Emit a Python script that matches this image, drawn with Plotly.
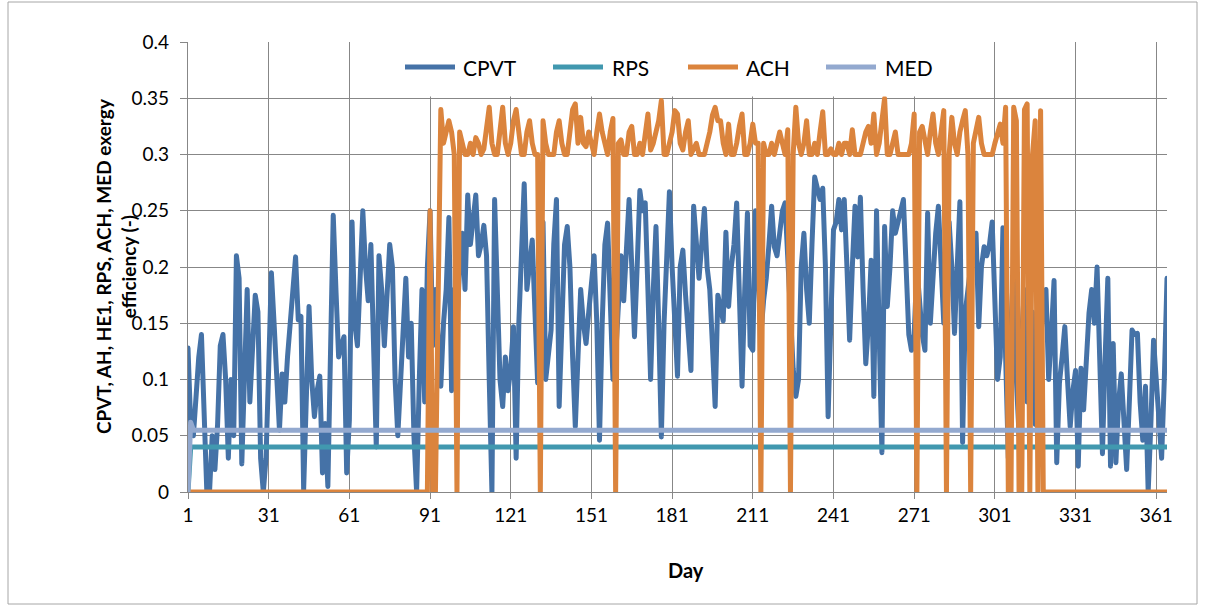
import plotly.graph_objects as go

# Daily exergy efficiency of each component over one year
days = list(range(1, 366))

cpvt = [
    # days 1-31
    0.128, 0.06, 0.05, 0.09, 0.12, 0.14, 0.07, 0.0, 0.0, 0.05, 0.02, 0.06, 0.13, 0.14, 0.10, 0.03,
    0.10, 0.05, 0.21, 0.19, 0.025, 0.10, 0.18, 0.08, 0.12, 0.175, 0.16, 0.03, 0.0, 0.03, 0.11,
    # days 32-62
    0.195, 0.15, 0.09, 0.055, 0.105, 0.08, 0.12, 0.15, 0.175, 0.209, 0.153, 0.156, 0.002, 0.09, 0.165,
    0.10, 0.067, 0.09, 0.103, 0.017, 0.061, 0.005, 0.15, 0.246, 0.18, 0.12, 0.13, 0.138, 0.017, 0.064, 0.24,
    # days 63-91
    0.15, 0.13, 0.20, 0.25, 0.20, 0.17, 0.22, 0.12, 0.04, 0.21, 0.18, 0.13, 0.17, 0.22, 0.20,
    0.10, 0.05, 0.10, 0.15, 0.19, 0.12, 0.15, 0.05, 0.0, 0.10, 0.18, 0.08, 0.20, 0.25,
    # days 92-121
    0.13, 0.18, 0.14, 0.094, 0.15, 0.18, 0.244, 0.09, 0.18, 0.15, 0.20, 0.23, 0.18, 0.264, 0.22,
    0.24, 0.264, 0.21, 0.22, 0.237, 0.21, 0.10, 0.0, 0.26, 0.18, 0.10, 0.076, 0.12, 0.09, 0.11,
    # days 122-152
    0.147, 0.03, 0.15, 0.22, 0.274, 0.18, 0.20, 0.224, 0.16, 0.097, 0.17, 0.24, 0.10, 0.12, 0.144,
    0.22, 0.26, 0.076, 0.15, 0.22, 0.236, 0.20, 0.12, 0.058, 0.12, 0.18, 0.15, 0.132, 0.16, 0.19, 0.21,
    # days 153-183
    0.15, 0.046, 0.15, 0.22, 0.239, 0.15, 0.10, 0.12, 0.16, 0.21, 0.17, 0.22, 0.26, 0.20, 0.138,
    0.20, 0.268, 0.25, 0.257, 0.18, 0.10, 0.18, 0.236, 0.15, 0.049, 0.15, 0.22, 0.267, 0.20, 0.14, 0.103,
    # days 184-212
    0.20, 0.215, 0.175, 0.14, 0.108, 0.254, 0.22, 0.19, 0.22, 0.252, 0.20, 0.18, 0.13, 0.076, 0.175,
    0.16, 0.152, 0.231, 0.165, 0.20, 0.22, 0.257, 0.17, 0.094, 0.18, 0.248, 0.13, 0.126, 0.25,
    # days 213-243
    0.20, 0.14, 0.17, 0.19, 0.22, 0.254, 0.218, 0.21, 0.23, 0.25, 0.257, 0.20, 0.15, 0.11, 0.085,
    0.10, 0.20, 0.23, 0.18, 0.15, 0.22, 0.28, 0.27, 0.26, 0.27, 0.20, 0.067, 0.15, 0.233, 0.24, 0.26,
    # days 244-269
    0.233, 0.26, 0.20, 0.135, 0.20, 0.254, 0.209, 0.262, 0.18, 0.114, 0.15, 0.206, 0.085,
    0.25, 0.14, 0.035, 0.236, 0.165, 0.20, 0.25, 0.23, 0.24, 0.25, 0.26, 0.20, 0.14,
    # days 270-299
    0.126, 0.14, 0.20, 0.162, 0.14, 0.126, 0.248, 0.15, 0.20, 0.23, 0.254, 0.20, 0.15, 0.20, 0.24,
    0.20, 0.141, 0.20, 0.258, 0.044, 0.16, 0.18, 0.20, 0.22, 0.23, 0.147, 0.20, 0.218, 0.21, 0.22,
    # days 300-332
    0.24, 0.15, 0.10, 0.12, 0.235, 0.12, 0.03, 0.15, 0.20, 0.10, 0.05, 0.14, 0.18, 0.08, 0.12, 0.16,
    0.06, 0.10, 0.14, 0.17, 0.18, 0.10, 0.14, 0.188, 0.026, 0.097, 0.12, 0.147, 0.10, 0.058, 0.09, 0.108, 0.023,
    # days 333-365
    0.11, 0.073, 0.12, 0.159, 0.18, 0.15, 0.20, 0.10, 0.034, 0.12, 0.19, 0.023, 0.132, 0.026, 0.08, 0.105,
    0.06, 0.02, 0.08, 0.144, 0.14, 0.141, 0.08, 0.046, 0.094, 0.0, 0.06, 0.135, 0.10, 0.06, 0.03, 0.10, 0.19,
]

ach = [
    # days 1-90: chiller idle
    0.0, 0.0, 0.0, 0.0, 0.0, 0.0, 0.0, 0.0, 0.0, 0.0, 0.0, 0.0, 0.0, 0.0, 0.0,
    0.0, 0.0, 0.0, 0.0, 0.0, 0.0, 0.0, 0.0, 0.0, 0.0, 0.0, 0.0, 0.0, 0.0, 0.0,
    0.0, 0.0, 0.0, 0.0, 0.0, 0.0, 0.0, 0.0, 0.0, 0.0, 0.0, 0.0, 0.0, 0.0, 0.0,
    0.0, 0.0, 0.0, 0.0, 0.0, 0.0, 0.0, 0.0, 0.0, 0.0, 0.0, 0.0, 0.0, 0.0, 0.0,
    0.0, 0.0, 0.0, 0.0, 0.0, 0.0, 0.0, 0.0, 0.0, 0.0, 0.0, 0.0, 0.0, 0.0, 0.0,
    0.0, 0.0, 0.0, 0.0, 0.0, 0.0, 0.0, 0.0, 0.0, 0.0, 0.0, 0.0, 0.0, 0.0, 0.0,
    # days 91-120
    0.25, 0.0, 0.0, 0.20, 0.34, 0.31, 0.32, 0.33, 0.32, 0.30, 0.0, 0.32, 0.31, 0.30, 0.30,
    0.31, 0.30, 0.315, 0.31, 0.30, 0.305, 0.32, 0.342, 0.31, 0.30, 0.30, 0.32, 0.342, 0.31, 0.30,
    # days 121-150
    0.31, 0.33, 0.34, 0.32, 0.30, 0.30, 0.32, 0.33, 0.31, 0.30, 0.30, 0.0, 0.33, 0.31, 0.30,
    0.30, 0.30, 0.32, 0.33, 0.31, 0.30, 0.30, 0.32, 0.34, 0.345, 0.31, 0.333, 0.31, 0.307, 0.32,
    # days 151-182
    0.31, 0.30, 0.32, 0.336, 0.32, 0.31, 0.30, 0.32, 0.332, 0.0, 0.31, 0.313, 0.30, 0.30, 0.32, 0.325,
    0.30, 0.30, 0.31, 0.30, 0.32, 0.336, 0.304, 0.31, 0.32, 0.33, 0.348, 0.30, 0.30, 0.31, 0.32, 0.339,
    # days 183-213
    0.336, 0.31, 0.304, 0.32, 0.33, 0.30, 0.305, 0.31, 0.30, 0.30, 0.30, 0.31, 0.32, 0.335, 0.342, 0.33,
    0.33, 0.31, 0.30, 0.327, 0.30, 0.30, 0.31, 0.325, 0.336, 0.30, 0.30, 0.31, 0.327, 0.31, 0.31,
    # days 214-244
    0.0, 0.31, 0.30, 0.30, 0.31, 0.30, 0.31, 0.32, 0.31, 0.30, 0.322, 0.0, 0.30, 0.342, 0.31, 0.30,
    0.31, 0.33, 0.30, 0.30, 0.31, 0.30, 0.32, 0.338, 0.30, 0.30, 0.305, 0.30, 0.30, 0.31, 0.30,
    # days 245-272
    0.31, 0.31, 0.30, 0.322, 0.30, 0.30, 0.30, 0.31, 0.32, 0.325, 0.31, 0.336, 0.30, 0.31,
    0.33, 0.35, 0.30, 0.30, 0.31, 0.32, 0.30, 0.30, 0.30, 0.30, 0.30, 0.31, 0.336, 0.0,
    # days 273-305
    0.32, 0.325, 0.31, 0.30, 0.32, 0.336, 0.31, 0.30, 0.32, 0.339, 0.0, 0.30, 0.333, 0.31, 0.30, 0.32,
    0.33, 0.339, 0.30, 0.0, 0.31, 0.32, 0.333, 0.31, 0.30, 0.30, 0.30, 0.30, 0.31, 0.32, 0.327, 0.31, 0.342,
    # days 306-319
    0.0, 0.0, 0.342, 0.33, 0.0, 0.0, 0.34, 0.345, 0.0, 0.30, 0.33, 0.0, 0.339, 0.0,
    # days 320-365: chiller idle
    0.0, 0.0, 0.0, 0.0, 0.0, 0.0, 0.0, 0.0, 0.0, 0.0, 0.0, 0.0, 0.0, 0.0, 0.0, 0.0,
    0.0, 0.0, 0.0, 0.0, 0.0, 0.0, 0.0, 0.0, 0.0, 0.0, 0.0, 0.0, 0.0, 0.0, 0.0,
    0.0, 0.0, 0.0, 0.0, 0.0, 0.0, 0.0, 0.0, 0.0, 0.0, 0.0, 0.0, 0.0, 0.0, 0.0,
]

# RPS and MED run at a steady efficiency after start-up on day 1
rps = [0.0] + [0.04] * 364
med = [0.0, 0.062] + [0.055] * 363

series_names = ["CPVT", "RPS", "ACH", "MED"]
series_colors = ["#4572A7", "#4198AF", "#DB843D", "#93A9CF"]
series_values = [cpvt, rps, ach, med]

x_ticks = list(range(1, 366, 30))
y_ticks = [0, 0.05, 0.1, 0.15, 0.2, 0.25, 0.3, 0.35, 0.4]
y_tick_labels = ["0", "0.05", "0.1", "0.15", "0.2", "0.25", "0.3", "0.35", "0.4"]

FONT = "Lato, Carlito, 'Liberation Sans', sans-serif"
W, H = 1205, 609
L, R, T, B = 188, 38, 42, 117
PW, PH = W - L - R, H - T - B


def px(x):
    return (x - L) / PW


def py(y):
    return (H - B - y) / PH


fig = go.Figure()
for name, color, vals in zip(series_names, series_colors, series_values):
    fig.add_trace(go.Scatter(
        x=days, y=vals, mode="lines", name=name,
        line=dict(color=color, width=5),
        showlegend=False, hoverinfo="skip",
    ))

shapes = []
annotations = []

# outer chart border
shapes.append(dict(type="rect", xref="paper", yref="paper",
                   x0=px(8), x1=px(1197), y0=py(604), y1=py(2),
                   line=dict(color="#a6a6a6", width=1), fillcolor="rgba(0,0,0,0)", layer="below"))

# legend box covering the grid at the top of the plot
shapes.append(dict(type="rect", xref="paper", yref="paper",
                   x0=px(367), x1=px(963), y0=py(96.5), y1=py(36),
                   line=dict(width=0), fillcolor="white", layer="above"))

legend_items = [(405, 461), (553, 610), (688, 744), (826, 883)]
for (lx, tx), name, color in zip(legend_items, series_names, series_colors):
    shapes.append(dict(type="line", xref="paper", yref="paper",
                       x0=px(lx), x1=px(lx + 50), y0=py(67), y1=py(67),
                       line=dict(color=color, width=5), layer="above"))
    annotations.append(dict(text=name, xref="paper", yref="paper",
                            x=px(tx), y=py(67), xanchor="left", yanchor="middle",
                            showarrow=False, font=dict(family=FONT, size=21, color="black")))

annotations.append(dict(
    text="<b>CPVT, AH, HE1, RPS, ACH, MED exergy<br>efficiency (-)</b>",
    xref="paper", yref="paper", x=px(116), y=py(266), textangle=-90,
    xanchor="center", yanchor="middle", showarrow=False,
    font=dict(family=FONT, size=19, color="black")))

annotations.append(dict(
    text="<b>Day</b>", xref="paper", yref="paper", x=px(686), y=py(570),
    xanchor="center", yanchor="middle", showarrow=False,
    font=dict(family=FONT, size=20, color="black")))

fig.update_layout(
    width=W, height=H,
    margin=dict(l=L, r=R, t=T, b=B, pad=0),
    paper_bgcolor="white", plot_bgcolor="white",
    shapes=shapes, annotations=annotations,
    font=dict(family=FONT, size=19, color="black"),
    xaxis=dict(
        range=[1, 365], tickvals=x_ticks, ticktext=[str(v) for v in x_ticks],
        showgrid=True, gridcolor="#878787", gridwidth=1.2,
        showline=True, linecolor="#878787", linewidth=1.2,
        ticks="outside", ticklen=6, tickcolor="#878787",
        zeroline=False, fixedrange=True,
        tickfont=dict(family=FONT, size=19, color="black"),
    ),
    yaxis=dict(
        range=[0, 0.4], tickvals=y_ticks, ticktext=y_tick_labels,
        showgrid=True, gridcolor="#878787", gridwidth=1.2,
        showline=True, linecolor="#878787", linewidth=1.2,
        ticks="outside", ticklen=7, tickcolor="#878787",
        ticklabelstandoff=7,
        zeroline=False, fixedrange=True,
        tickfont=dict(family=FONT, size=19, color="black"),
    ),
)

round_joins = """
document.querySelectorAll('path.js-line').forEach(function (p) {
  p.style.strokeLinejoin = 'round';
  p.style.strokeLinecap = 'round';
});
"""

fig.write_html("out.html", config={"displayModeBar": False}, post_script=round_joins)
